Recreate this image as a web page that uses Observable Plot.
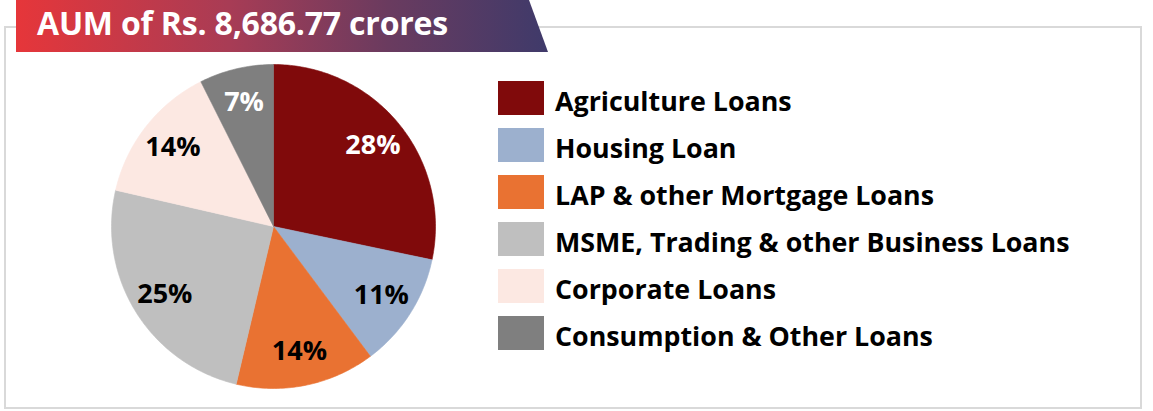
<!DOCTYPE html>
<html>
<head>
<meta charset="utf-8">
<script src="https://cdn.jsdelivr.net/npm/d3@7"></script>
<script src="https://cdn.jsdelivr.net/npm/@observablehq/plot@0.6"></script>
<style>
  html, body { margin: 0; padding: 0; background: #fff; width: 1153px; height: 411px; overflow: hidden; }
  body { position: relative; font-family: "Open Sans", "Lato", sans-serif; }
  #frame { position: absolute; left: 4px; top: 26px; width: 1138px; height: 383px; box-sizing: border-box; border: 2px solid #d9d9d9; }
  #banner { position: absolute; left: 16px; top: 0; width: 532px; height: 52px;
    background: linear-gradient(90deg, #e6363a 0%, #a83c55 40%, #6a3b5f 70%, #3f3a6a 100%);
    clip-path: polygon(0 0, 513px 0, 532px 52px, 0 52px); }
  #title { position: absolute; left: 37px; top: 3px; color: #fff; font-weight: 700; font-size: 32px; line-height: 40px; white-space: nowrap; letter-spacing: -0.2px; }
  #pie { position: absolute; left: 103px; top: 56px; }
  #legend { position: absolute; left: 498px; top: 81px; }
  .row { position: relative; height: 47px; }
  .sw { position: absolute; left: 0; top: 0; width: 46px; height: 34px; }
  .lb { position: absolute; left: 57px; top: 7px; font-weight: 700; font-size: 26.8px; line-height: 26.8px; color: #000; white-space: nowrap; }
</style>
</head>
<body>
<div id="frame"></div>
<div id="banner"></div>
<div id="title"></div>
<div id="pie"></div>
<div id="legend"></div>
<script>
const titleText = "AUM of Rs. 8,686.77 crores";
const categories = ["Agriculture Loans", "Housing Loan", "LAP & other Mortgage Loans", "MSME, Trading & other Business Loans", "Corporate Loans", "Consumption & Other Loans"];
const shares = [28.3, 11.5, 13.9, 24.9, 14.0, 7.4];
const pctLabels = ["28%", "11%", "14%", "25%", "14%", "7%"];
const sliceColors = ["#800a0b", "#9cb0ce", "#e97232", "#bfbfbf", "#fce8e2", "#7f7f7f"];
const labelColors = ["#ffffff", "#000000", "#000000", "#000000", "#000000", "#ffffff"];

document.getElementById("title").textContent = titleText;

const arcs = d3.pie().sort(null).value(d => d)(shares);
const pts = [];
arcs.forEach((a, i) => {
  const name = categories[i];
  pts.push({name, x: 0, y: 0});
  const n = Math.max(2, Math.ceil((a.endAngle - a.startAngle) / (Math.PI / 180)) + 1);
  for (let k = 0; k < n; k++) {
    const t = a.startAngle + (a.endAngle - a.startAngle) * k / (n - 1);
    pts.push({name, x: Math.sin(t), y: Math.cos(t)});
  }
  pts.push({name, x: 0, y: 0});
});
const labelPos = arcs.map((a, i) => {
  const m = (a.startAngle + a.endAngle) / 2;
  return {label: pctLabels[i], color: labelColors[i], x: 0.79 * Math.sin(m), y: 0.79 * Math.cos(m)};
});

const R = 162, S = 340, C = S / 2;
const pie = Plot.plot({
  width: S, height: S,
  margin: 0,
  style: {background: "transparent", overflow: "visible"},
  x: {domain: [-1, 1], range: [C - R, C + R], axis: null},
  y: {domain: [-1, 1], range: [C + R, C - R], axis: null},
  color: {domain: categories, range: sliceColors},
  marks: [
    Plot.line(pts, {x: "x", y: "y", z: "name", fill: "name", stroke: "name", strokeWidth: 0.6, curve: "linear"}),
    Plot.text(labelPos, {x: "x", y: "y", text: "label", fill: d => d.color, fontSize: 27, fontWeight: 700, fontFamily: "Open Sans", textAnchor: "middle", lineAnchor: "middle"})
  ]
});
document.getElementById("pie").appendChild(pie);

const legend = document.getElementById("legend");
categories.forEach((c, i) => {
  const row = document.createElement("div");
  row.className = "row";
  const sw = document.createElement("div");
  sw.className = "sw";
  sw.style.background = sliceColors[i];
  const lb = document.createElement("div");
  lb.className = "lb";
  lb.textContent = c;
  row.appendChild(sw);
  row.appendChild(lb);
  legend.appendChild(row);
});
</script>
</body>
</html>
